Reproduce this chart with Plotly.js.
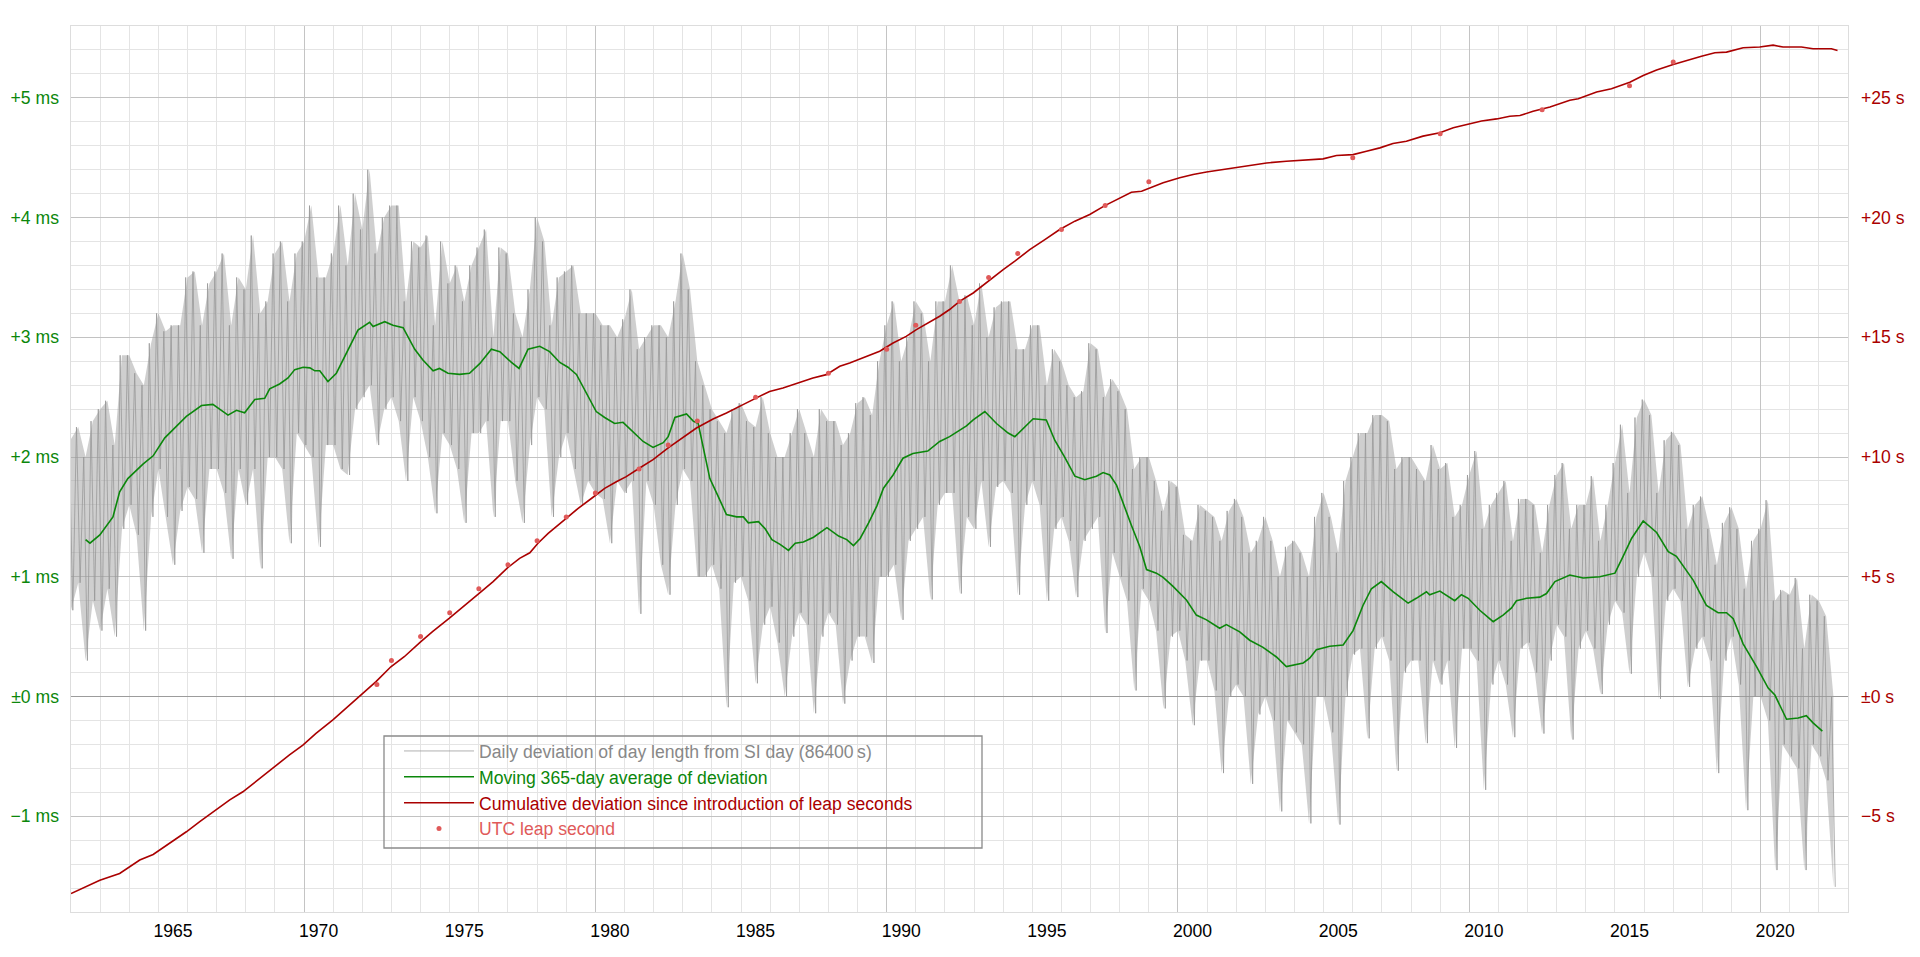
<!DOCTYPE html>
<html>
<head>
<meta charset="utf-8">
<script src="https://cdn.plot.ly/plotly-3.0.1.min.js"></script>
<style>
  html, body { margin: 0; padding: 0; background: #fff; }
  #chart { width: 1920px; height: 957px; }
</style>
</head>
<body>
<div id="chart"></div>
<script>
// daily deviation, read as upper / lower extent per quarter year (ms)
const dailyStart = 1962;
const dailyStep = 0.25;
const dailyHi = [
  2.15, 2.25, 2.0, 2.3,   2.4, 2.47, 2.1, 2.85,   2.85, 2.7, 2.6, 2.95,   3.2, 3.05, 3.1, 3.1,
  3.5, 3.55, 3.1, 3.45,   3.55, 3.7, 3.1, 3.5,    3.4, 3.85, 3.2, 3.3,    3.7, 3.8, 3.3, 3.7,
  3.8, 4.1, 3.5, 3.5,     3.7, 4.1, 3.6, 4.2,     3.9, 4.4, 3.7, 4.0,     4.1, 4.1, 3.3, 3.8,
  3.75, 3.85, 3.1, 3.8,   3.45, 3.6, 3.3, 3.6,    3.75, 3.9, 3.0, 3.75,   3.7, 3.2, 3.0, 3.4,
  4.0, 3.8, 3.1, 3.5,     3.55, 3.6, 3.2, 3.2,    3.2, 3.1, 3.1, 3.0,     3.15, 3.4, 2.9, 3.0,
  3.1, 3.1, 3.0, 3.3,     3.7, 3.4, 2.8, 2.6,     2.4, 2.3, 2.2, 2.4,     2.45, 2.3, 2.25, 2.5,
  2.2, 2.0, 2.0, 2.2,     2.4, 2.2, 2.0, 2.4,     2.3, 2.3, 2.1, 2.2,     2.45, 2.5, 2.35, 2.8,
  3.1, 3.3, 2.8, 3.0,     3.3, 3.2, 2.8, 3.3,     3.3, 3.6, 3.3, 3.35,    3.1, 3.45, 3.0, 3.25,
  3.3, 3.3, 2.9, 2.9,     3.1, 3.1, 2.6, 2.9,     2.8, 2.6, 2.5, 2.55,    2.95, 2.9, 2.5, 2.65,
  2.55, 2.4, 1.9, 2.0,    2.0, 1.8, 1.55, 1.8,    1.75, 1.35, 1.3, 1.6,   1.55, 1.5, 1.3, 1.55,
  1.65, 1.5, 1.2, 1.3,    1.5, 1.3, 1.0, 1.25,    1.3, 1.2, 1.0, 1.5,     1.7, 1.5, 1.2, 1.8,
  2.0, 2.2, 2.2, 2.35,    2.35, 2.3, 1.9, 2.0,    2.0, 1.9, 1.8, 2.1,     1.9, 1.95, 1.5, 1.6,
  1.85, 2.05, 1.4, 1.6,   1.7, 1.8, 1.3, 1.65,    1.65, 1.6, 1.2, 1.6,    1.85, 1.95, 1.4, 1.6,
  1.6, 1.84, 1.3, 1.6,    1.95, 2.27, 1.7, 2.33,  2.48, 2.35, 1.7, 2.14,  2.21, 2.1, 1.4, 1.6,
  1.67, 1.4, 1.1, 1.45,   1.58, 1.4, 0.9, 1.3,    1.4, 1.64, 0.8, 0.89,   0.85, 0.99, 0.4, 0.85,
  0.8, 0.67, 0.0
];
const dailyLo = [
  0.72, 0.95, 0.3, 0.8,   0.55, 0.9, 0.5, 1.4,    1.6, 1.35, 0.55, 1.5,   1.9, 1.5, 1.1, 1.55,
  1.75, 1.65, 1.2, 1.9,   1.9, 1.7, 1.15, 1.9,    1.6, 1.9, 1.07, 2.0,    2.0, 1.9, 1.28, 2.2,
  2.1, 2.0, 1.25, 2.1,    2.1, 1.9, 1.85, 2.4,    2.5, 2.6, 2.1, 2.4,     2.5, 2.3, 1.8, 2.5,
  2.3, 2.0, 1.53, 2.2,    2.1, 1.9, 1.45, 2.2,    2.2, 2.3, 1.5, 2.3,     2.3, 1.8, 1.45, 2.1,
  2.5, 2.4, 1.5, 2.0,     2.2, 1.9, 1.6, 1.8,     1.7, 1.65, 1.28, 1.8,   1.7, 1.8, 0.69, 1.8,
  1.6, 1.1, 0.85, 1.6,    1.9, 1.8, 1.0, 1.0,     1.1, 0.9, -0.09, 0.95,  1.0, 0.8, 0.11, 0.6,
  0.75, 0.45, 0.0, 0.5,   0.7, 0.6, -0.14, 0.5,   0.7, 0.6, -0.06, 0.3,   0.5, 0.5, 0.28, 1.0,
  1.0, 1.1, 0.64, 1.3,    1.4, 1.5, 0.81, 1.6,    1.7, 1.7, 0.86, 1.5,    1.4, 1.8, 1.25, 1.75,
  1.8, 1.7, 0.85, 1.6,    1.8, 1.6, 0.8, 1.4,     1.5, 1.3, 0.83, 1.3,    1.4, 1.5, 0.53, 1.2,
  1.0, 0.8, 0.05, 0.9,    0.8, 0.55, -0.1, 0.5,   0.55, 0.3, -0.24, 0.3,  0.3, 0.05, -0.64, 0.0,
  0.1, 0.0, -0.73, -0.15, 0.0, -0.2, -0.96, -0.2, -0.3, -0.4, -1.06, 0.0, 0.0, -0.3, -1.07, 0.0,
  0.35, 0.4, -0.35, 0.4,  0.5, 0.3, -0.62, 0.2,   0.3, 0.3, -0.39, 0.3,   0.1, 0.3, -0.43, 0.4,
  0.4, 0.3, -0.78, 0.1,   0.3, 0.1, -0.34, 0.4,   0.45, 0.2, -0.31, 0.3,  0.6, 0.5, -0.36, 0.4,
  0.55, 0.4, 0.02, 0.6,   0.8, 0.7, 0.19, 1.0,    1.2, 1.0, -0.02, 0.8,   0.9, 0.8, 0.08, 0.4,
  0.5, 0.3, -0.64, 0.3,   0.5, 0.1, -0.95, 0.0,   0.0, -0.2, -1.45, -0.4, -0.5, -0.6, -1.45, -0.4,
  -0.5, -0.7, -1.59
];

// moving 365-day average (ms)
const avgYears = [
  1962.5, 1962.65, 1962.99, 1963.44, 1963.67, 1963.95, 1964.47, 1964.82, 1965.22, 1965.62,
  1965.96, 1966.48, 1966.87, 1967.39, 1967.68, 1967.96, 1968.31, 1968.65, 1968.82, 1969.16,
  1969.45, 1969.68, 1969.97, 1970.2, 1970.37, 1970.54, 1970.82, 1971.11, 1971.51, 1971.85,
  1972.25, 1972.37, 1972.77, 1973.05, 1973.4, 1973.8, 1974.08, 1974.43, 1974.65, 1974.94,
  1975.34, 1975.68, 1976.03, 1976.43, 1976.72, 1977.12, 1977.38, 1977.69, 1978.09, 1978.43,
  1978.78, 1979.06, 1979.35, 1979.69, 1980.03, 1980.32, 1980.66, 1980.95, 1981.3, 1981.64,
  1981.98, 1982.33, 1982.5, 1982.73, 1983.13, 1983.36, 1983.53, 1983.7, 1983.93, 1984.16,
  1984.5, 1984.85, 1985.08, 1985.25, 1985.6, 1985.83, 1986.06, 1986.34, 1986.63, 1986.86,
  1987.14, 1987.49, 1987.95, 1988.35, 1988.63, 1988.86, 1989.09, 1989.38, 1989.66, 1989.89,
  1990.12, 1990.22, 1990.56, 1990.9, 1991.41, 1991.82, 1992.16, 1992.5, 1992.74, 1992.97,
  1993.37, 1993.77, 1994.17, 1994.4, 1994.68, 1995.03, 1995.48, 1995.77, 1996.11, 1996.46,
  1996.8, 1997.2, 1997.43, 1997.66, 1997.89, 1998.12, 1998.4, 1998.69, 1998.92, 1999.26,
  1999.49, 1999.83, 2000.29, 2000.63, 2000.98, 2001.43, 2001.66, 2002.12, 2002.46, 2002.92,
  2003.38, 2003.72, 2004.3, 2004.52, 2004.75, 2005.21, 2005.67, 2006.01, 2006.35, 2006.64,
  2006.98, 2007.38, 2007.9, 2008.18, 2008.53, 2008.64, 2008.99, 2009.5, 2009.73, 2009.96,
  2010.36, 2010.82, 2011.16, 2011.45, 2011.62, 2011.97, 2012.42, 2012.65, 2012.94, 2013.45,
  2013.91, 2014.48, 2015.0, 2015.28, 2015.57, 2015.97, 2016.43, 2016.83, 2017.11, 2017.69,
  2018.14, 2018.54, 2018.83, 2019.06, 2019.4, 2019.86, 2020.26, 2020.49, 2020.89, 2021.29,
  2021.57, 2021.8, 2022.12
];
const avgMs = [
  1.31, 1.28, 1.35, 1.5, 1.71, 1.82, 1.94, 2.01, 2.16, 2.26,
  2.34, 2.43, 2.44, 2.35, 2.39, 2.37, 2.48, 2.49, 2.57, 2.61,
  2.66, 2.73, 2.75, 2.745, 2.72, 2.72, 2.63, 2.7, 2.9, 3.06,
  3.125, 3.09, 3.13, 3.1, 3.08, 2.9, 2.81, 2.72, 2.74, 2.7,
  2.69, 2.7, 2.78, 2.9, 2.88, 2.79, 2.74, 2.9, 2.925, 2.88,
  2.79, 2.75, 2.69, 2.53, 2.38, 2.33, 2.28, 2.29, 2.21, 2.13,
  2.08, 2.12, 2.17, 2.33, 2.36, 2.3, 2.28, 2.09, 1.82, 1.7,
  1.52, 1.5, 1.5, 1.45, 1.46, 1.4, 1.31, 1.27, 1.22, 1.28,
  1.29, 1.33, 1.41, 1.34, 1.31, 1.26, 1.32, 1.45, 1.59, 1.74,
  1.82, 1.85, 1.99, 2.03, 2.05, 2.13, 2.17, 2.22, 2.26, 2.31,
  2.38, 2.28, 2.2, 2.17, 2.24, 2.32, 2.31, 2.14, 2.0, 1.84,
  1.81, 1.84, 1.87, 1.85, 1.765, 1.61, 1.43, 1.25, 1.06, 1.03,
  0.995, 0.92, 0.806, 0.68, 0.64, 0.57, 0.6, 0.54, 0.47, 0.41,
  0.33, 0.25, 0.28, 0.32, 0.39, 0.42, 0.43, 0.55, 0.76, 0.9,
  0.96, 0.875, 0.78, 0.82, 0.875, 0.85, 0.88, 0.8, 0.85, 0.82,
  0.72, 0.625, 0.68, 0.74, 0.8, 0.82, 0.83, 0.86, 0.96, 1.014,
  0.99, 1.0, 1.03, 1.17, 1.32, 1.466, 1.37, 1.21, 1.17, 0.97,
  0.76, 0.7, 0.7, 0.65, 0.44, 0.25, 0.07, 0.012, -0.19, -0.18,
  -0.16, -0.22, -0.29
];

// cumulative deviation since 1972 (s)
const cumYears = [
  1962.0, 1962.41, 1962.99, 1963.67, 1964.36, 1964.82, 1965.39, 1965.96, 1966.42, 1966.99,
  1967.45, 1967.9, 1968.47, 1968.99, 1969.5, 1969.96, 1970.41, 1970.99, 1971.44, 1972.01,
  1972.47, 1972.98, 1973.44, 1974.01, 1974.41, 1974.98, 1975.38, 1976.01, 1976.49, 1977.0,
  1977.4, 1977.75, 1978.03, 1978.38, 1979.0, 1979.41, 1979.92, 1980.32, 1980.72, 1981.06,
  1981.52, 1981.98, 1982.5, 1982.9, 1983.47, 1984.04, 1984.5, 1985.07, 1985.53, 1985.98,
  1986.44, 1986.96, 1987.47, 1987.93, 1988.39, 1988.73, 1989.19, 1989.76, 1990.22, 1990.67,
  1991.02, 1991.42, 1991.82, 1992.16, 1992.5, 1992.97, 1993.48, 1994.0, 1994.4, 1994.91,
  1995.43, 1995.94, 1996.46, 1996.97, 1997.49, 1997.89, 1998.4, 1998.75, 1999.03, 1999.49,
  2000.06, 2000.52, 2000.98, 2001.55, 2002.01, 2002.46, 2003.04, 2003.72, 2004.41, 2004.98,
  2005.44, 2006.01, 2006.47, 2006.93, 2007.38, 2007.84, 2008.41, 2008.99, 2009.45, 2009.96,
  2010.42, 2010.94, 2011.39, 2011.74, 2012.19, 2012.77, 2013.45, 2013.74, 2014.37, 2014.88,
  2015.51, 2015.97, 2016.43, 2017.0, 2017.46, 2017.97, 2018.43, 2018.83, 2019.4, 2019.97,
  2020.43, 2020.77, 2021.4, 2021.8, 2022.43, 2022.64
];
const cumSec = [
  -8.23, -8.0, -7.67, -7.39, -6.83, -6.6, -6.14, -5.65, -5.23, -4.74,
  -4.32, -3.98, -3.42, -2.93, -2.44, -2.03, -1.54, -0.98, -0.5, 0.13,
  0.62, 1.24, 1.66, 2.29, 2.71, 3.26, 3.68, 4.31, 4.8, 5.39,
  5.77, 6.0, 6.4, 6.81, 7.44, 7.86, 8.32, 8.69, 8.97, 9.18,
  9.54, 9.89, 10.38, 10.72, 11.21, 11.59, 11.84, 12.19, 12.47, 12.74,
  12.88, 13.09, 13.3, 13.44, 13.79, 13.93, 14.14, 14.42, 14.76, 15.04,
  15.32, 15.6, 15.88, 16.16, 16.5, 16.85, 17.34, 17.83, 18.18, 18.66,
  19.08, 19.5, 19.85, 20.13, 20.5, 20.75, 21.06, 21.1, 21.24, 21.45,
  21.66, 21.8, 21.9, 22.0, 22.08, 22.19, 22.28, 22.35, 22.42, 22.45,
  22.59, 22.63, 22.77, 22.91, 23.09, 23.19, 23.4, 23.54, 23.75, 23.89,
  24.03, 24.12, 24.23, 24.26, 24.44, 24.62, 24.9, 24.96, 25.24, 25.38,
  25.65, 25.93, 26.16, 26.39, 26.57, 26.74, 26.88, 26.91, 27.09, 27.12,
  27.2, 27.12, 27.12, 27.05, 27.05, 26.98
];

// UTC leap seconds
const leapYears = [
  1972.5, 1973.0, 1974.0, 1975.0, 1976.0, 1977.0, 1978.0, 1979.0, 1980.0, 1981.5,
  1982.5, 1983.5, 1985.5, 1988.0, 1990.0, 1991.0, 1992.5, 1993.5, 1994.5, 1996.0,
  1997.5, 1999.0, 2006.0, 2009.0, 2012.5, 2015.5, 2017.0
];
const leapSec = [
  0.5, 1.5, 2.5, 3.5, 4.5, 5.5, 6.5, 7.5, 8.5, 9.5,
  10.5, 11.5, 12.5, 13.5, 14.5, 15.5, 16.5, 17.5, 18.5, 19.5,
  20.5, 21.5, 22.5, 23.5, 24.5, 25.5, 26.5
];

const yearLabels = ['1965', '1970', '1975', '1980', '1985', '1990', '1995', '2000', '2005', '2010', '2015', '2020'];
const msTicks = [-1, 0, 1, 2, 3, 4, 5];
const msLabels = ['\u22121 ms', '\u00b10 ms', '+1 ms', '+2 ms', '+3 ms', '+4 ms', '+5 ms'];
const secTicks = [-5, 0, 5, 10, 15, 20, 25];
const secLabels = ['\u22125 s', '\u00b10 s', '+5 s', '+10 s', '+15 s', '+20 s', '+25 s'];

const FONT = 'Liberation Sans, Arial, sans-serif';
const GREEN = '#0b870b';
const DARKRED = '#aa0000';
const LIGHTRED = '#e05a5a';

const dailyT = dailyHi.map((h, i) => dailyStart + i * dailyStep);

// zigzag between the upper and lower extent of each quarter
const dailyX = [], dailyY = [];
dailyHi.forEach((h, i) => {
  dailyX.push(dailyT[i] - dailyStep / 4, dailyT[i] + dailyStep / 4);
  dailyY.push(h, dailyLo[i]);
});

const traces = [
  {
    x: dailyT, y: dailyHi, type: 'scatter', mode: 'lines',
    line: { width: 0, color: 'rgba(0,0,0,0)' }, showlegend: false, hoverinfo: 'skip'
  },
  {
    x: dailyT, y: dailyLo, type: 'scatter', mode: 'lines', fill: 'tonexty',
    fillcolor: 'rgba(160,160,160,0.5)',
    line: { width: 0, color: 'rgba(0,0,0,0)' }, showlegend: false, hoverinfo: 'skip'
  },
  {
    x: dailyX, y: dailyY, type: 'scatter', mode: 'lines',
    name: '<span style="color:#888888">Daily deviation of day length from SI day (86400\u2009s)</span>',
    line: { color: 'rgba(150,150,150,0.75)', width: 1 },
    hoverinfo: 'skip'
  },
  {
    x: avgYears, y: avgMs, xaxis: 'x2', yaxis: 'y2', type: 'scatter', mode: 'lines',
    name: '<span style="color:' + GREEN + '">Moving 365-day average of deviation</span>',
    line: { color: GREEN, width: 1.6 }
  },
  {
    x: cumYears, y: cumSec, xaxis: 'x3', yaxis: 'y3', type: 'scatter', mode: 'lines',
    name: '<span style="color:' + DARKRED + '">Cumulative deviation since introduction of leap seconds</span>',
    line: { color: DARKRED, width: 1.6 }
  },
  {
    x: leapYears, y: leapSec, xaxis: 'x3', yaxis: 'y3', type: 'scatter', mode: 'markers',
    name: '<span style="color:' + LIGHTRED + '">UTC leap second</span>',
    marker: { color: LIGHTRED, size: 5 }
  }
];

const xRange = [1962, 2023];
const yRange = [-1.8, 5.6];

const layout = {
  width: 1920,
  height: 957,
  margin: { l: 71, r: 72, t: 26, b: 45 },
  paper_bgcolor: '#fff',
  plot_bgcolor: '#fff',
  font: { family: FONT, size: 17.6, color: '#000' },
  showlegend: true,
  legend: {
    x: (399 - 71) / 1777, y: 1 - (733 - 26) / 886, xanchor: 'left', yanchor: 'top',
    traceorder: 'normal',
    bgcolor: 'rgba(0,0,0,0)', borderwidth: 0,
    font: { family: FONT, size: 17.6 },
    itemwidth: 70
  },
  shapes: [{
    type: 'rect', xref: 'paper', yref: 'paper',
    x0: (384 - 71) / 1777, x1: (982 - 71) / 1777,
    y0: 1 - (848 - 26) / 886, y1: 1 - (736 - 26) / 886,
    line: { color: '#8a8a8a', width: 1.3 }, fillcolor: 'rgba(0,0,0,0)'
  }],
  xaxis: {
    range: xRange, tick0: 1962, dtick: 1, showticklabels: false, ticks: '',
    showgrid: true, gridcolor: '#e4e4e4', gridwidth: 1, zeroline: false,
    showline: true, mirror: true, linecolor: '#dddddd', linewidth: 1
  },
  xaxis2: {
    overlaying: 'x', anchor: 'y', range: xRange, tick0: 1970, dtick: 10,
    showticklabels: false, ticks: '', showgrid: true, gridcolor: '#c4c4c4', zeroline: false
  },
  xaxis3: {
    overlaying: 'x', anchor: 'y', side: 'bottom', range: xRange,
    tickmode: 'array', tickvals: yearLabels.map(s => Number(s) + 0.5), ticktext: yearLabels,
    ticks: '', showgrid: false, zeroline: false, ticklabelstandoff: 6,
    tickfont: { family: FONT, size: 17.6, color: '#000' }
  },
  yaxis: {
    range: yRange, tick0: 0, dtick: 0.2, showticklabels: false, ticks: '',
    showgrid: true, gridcolor: '#e4e4e4', zeroline: false,
    showline: true, mirror: true, linecolor: '#dddddd', linewidth: 1
  },
  yaxis2: {
    overlaying: 'y', anchor: 'x', side: 'left', range: yRange,
    tickmode: 'array', tickvals: msTicks, ticktext: msLabels, ticks: '',
    showgrid: true, gridcolor: '#c2c2c2', zeroline: true, zerolinecolor: '#9c9c9c', zerolinewidth: 1.3,
    ticklabelstandoff: 11,
    tickfont: { family: FONT, size: 17.6, color: GREEN }
  },
  yaxis3: {
    overlaying: 'y', anchor: 'x', side: 'right', range: [-9, 28],
    tickmode: 'array', tickvals: secTicks, ticktext: secLabels, ticks: '',
    showgrid: false, zeroline: false, ticklabelstandoff: 12,
    tickfont: { family: FONT, size: 17.6, color: DARKRED }
  }
};

Plotly.newPlot('chart', traces, layout, { displayModeBar: false, staticPlot: true });
</script>
</body>
</html>
